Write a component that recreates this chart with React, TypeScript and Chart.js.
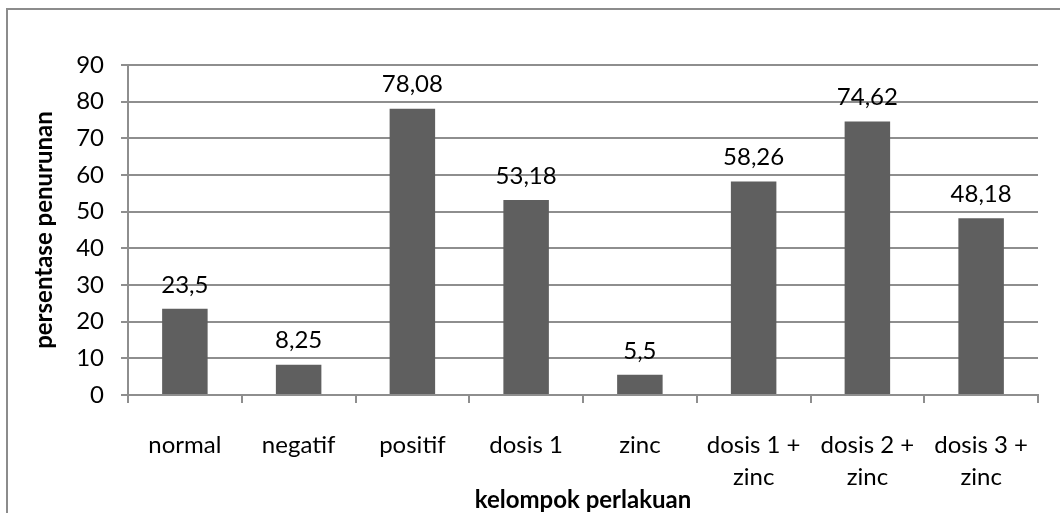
import React, { useEffect, useRef } from "react";
import { Chart, registerables } from "chart.js";

Chart.register(...registerables);

const categories: (string | string[])[] = [
  "normal",
  "negatif",
  "positif",
  "dosis 1",
  "zinc",
  ["dosis 1 +", "zinc"],
  ["dosis 2 +", "zinc"],
  ["dosis 3 +", "zinc"],
];
const values: number[] = [23.5, 8.25, 78.08, 53.18, 5.5, 58.26, 74.62, 48.18];
const yTitle = "persentase penurunan";
const xTitle = "kelompok perlakuan";

const FONT = "Lato, 'Open Sans', sans-serif";
const GRID = "#8e8e8e";

const frame = {
  id: "frame",
  beforeDraw(chart: any) {
    const ctx = chart.ctx;
    ctx.save();
    ctx.strokeStyle = "#8c8c8c";
    ctx.lineWidth = 2;
    ctx.strokeRect(7, 9, 2000, 2000);
    ctx.restore();
  },
};

const valueLabels = {
  id: "valueLabels",
  afterDatasetsDraw(chart: any) {
    const ctx = chart.ctx;
    const meta = chart.getDatasetMeta(0);
    ctx.save();
    ctx.font = `24px ${FONT}`;
    ctx.fillStyle = "#000";
    ctx.textAlign = "center";
    ctx.textBaseline = "middle";
    meta.data.forEach((bar: any, i: number) => {
      const txt = String(values[i]).replace(".", ",");
      ctx.fillText(txt, bar.x, bar.y - 24);
    });
    ctx.restore();
  },
};

export default function App() {
  const ref = useRef<HTMLCanvasElement>(null);
  useEffect(() => {
    if (!ref.current) return;
    const chart = new Chart(ref.current, {
      type: "bar",
      data: {
        labels: categories as any,
        datasets: [
          {
            data: values,
            backgroundColor: "#5f5f5f",
            borderWidth: 0,
            categoryPercentage: 1,
            barPercentage: 0.4,
          },
        ],
      },
      options: {
        animation: false,
        responsive: true,
        maintainAspectRatio: false,
        devicePixelRatio: 1,
        layout: { padding: { left: 8, right: 22, top: 65, bottom: 0 } },
        plugins: {
          legend: { display: false },
          tooltip: { enabled: false },
        },
        scales: {
          x: {
            afterFit: (s: any) => {
              s.height = 118;
            },
            grid: {
              offset: true,
              drawOnChartArea: false,
              drawTicks: true,
              tickLength: 8,
              color: GRID,
              lineWidth: 2,
            },
            border: { display: true, color: GRID, width: 2 },
            ticks: {
              color: "#000",
              padding: 26,
              maxRotation: 0,
              autoSkip: false,
              font: { family: FONT, size: 24, lineHeight: 1.35 },
            },
            title: {
              display: true,
              text: xTitle,
              color: "#000",
              font: { family: FONT, size: 24, weight: "bold", lineHeight: 1 },
              padding: { top: 0, bottom: 1 },
            },
          },
          y: {
            min: 0,
            max: 90,
            afterFit: (s: any) => {
              s.width = 120;
            },
            grid: {
              color: GRID,
              lineWidth: 2,
              tickLength: 7,
            },
            border: { display: true, color: GRID, width: 2 },
            ticks: {
              stepSize: 10,
              color: "#000",
              padding: 17,
              font: { family: FONT, size: 24 },
            },
            title: {
              display: true,
              text: yTitle,
              color: "#000",
              font: { family: FONT, size: 24, weight: "bold", lineHeight: 1 },
              padding: { top: 24, bottom: 0 },
            },
          },
        },
      },
      plugins: [frame, valueLabels],
    });
    return () => chart.destroy();
  }, []);
  return (
    <div style={{ position: "absolute", left: 0, top: 0, width: 1060, height: 513, background: "#fff" }}>
      <canvas ref={ref} />
    </div>
  );
}
